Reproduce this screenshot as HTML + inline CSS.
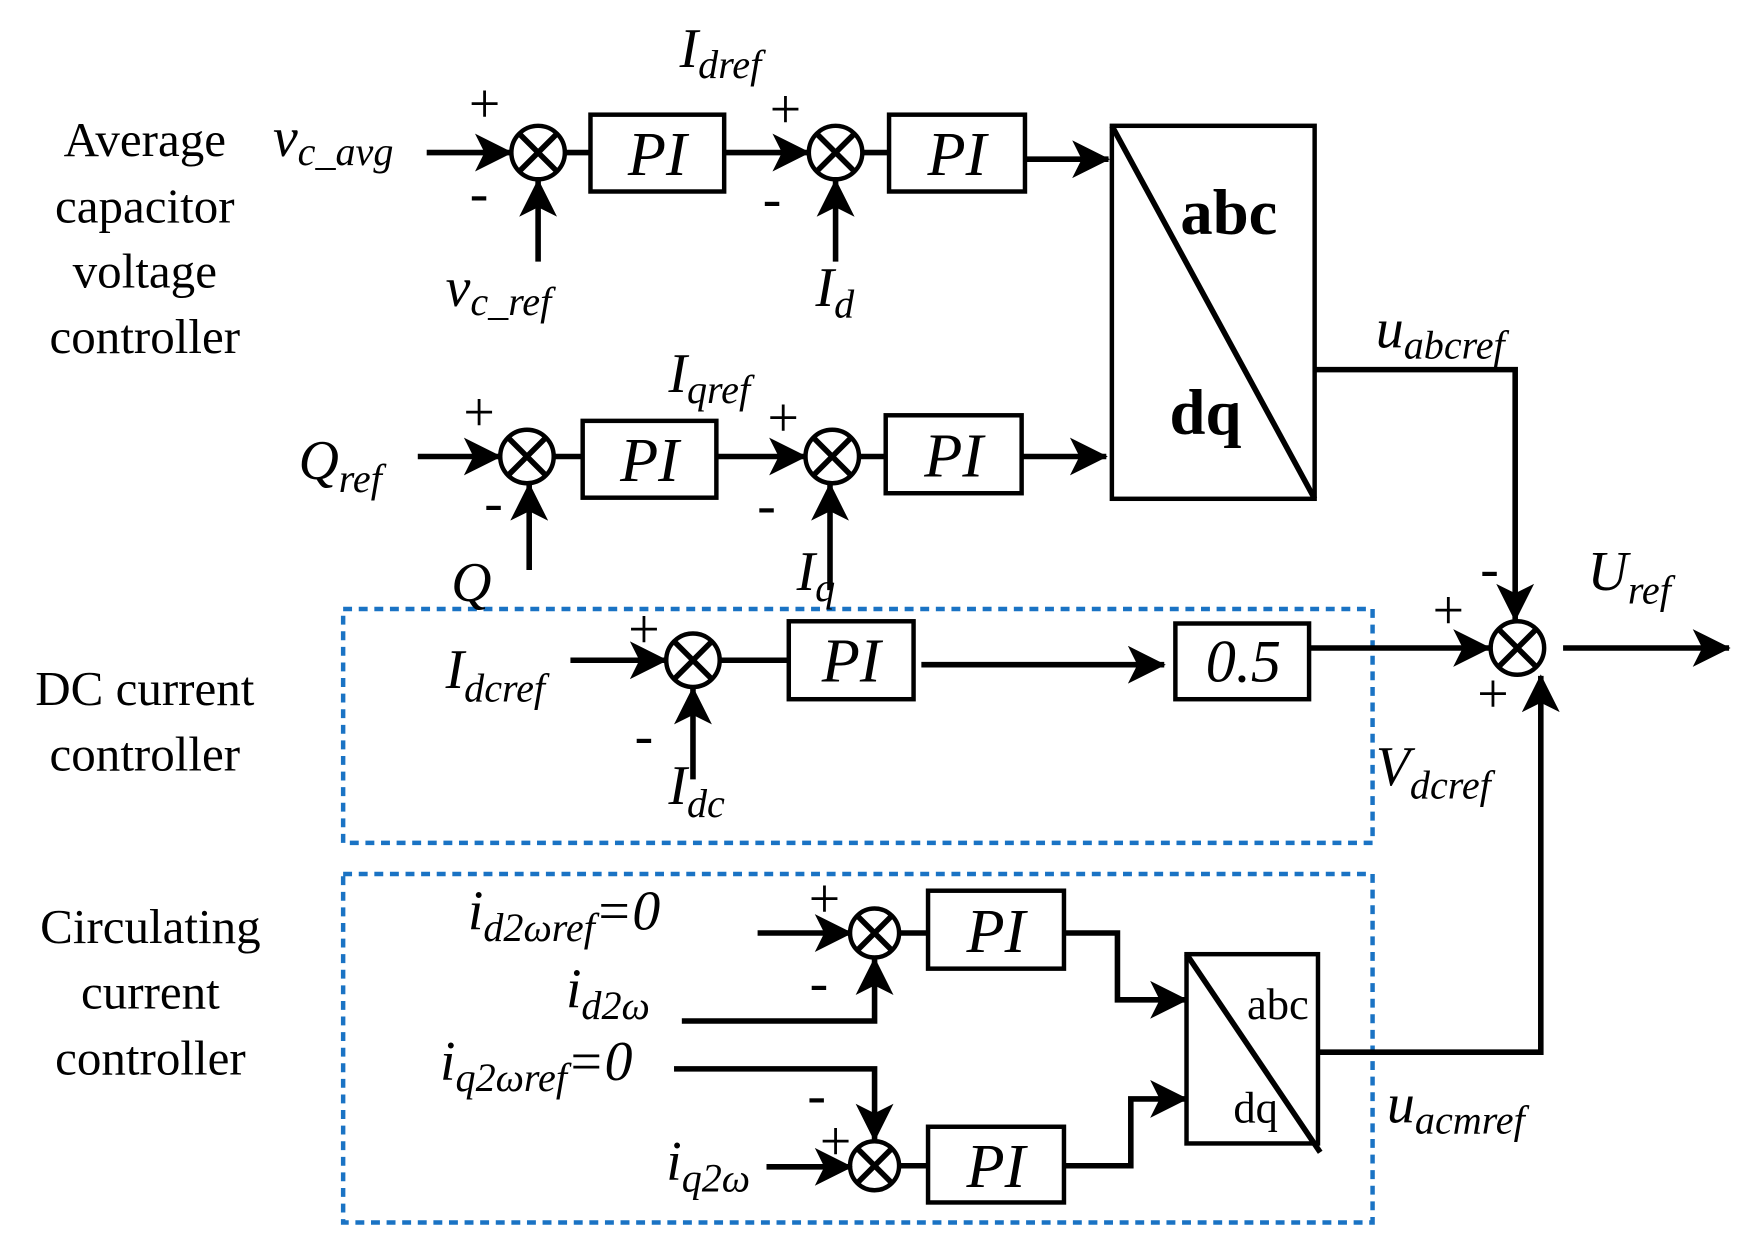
<!DOCTYPE html>
<html><head><meta charset="utf-8"><style>
html,body{margin:0;padding:0;background:#fff}
svg{display:block}
text{font-family:"Liberation Serif",serif;fill:#000}
.lab{font-size:44px;text-anchor:middle}
.v{font-style:italic;font-size:50px}
.s{font-size:36px}
.pi{font-style:italic;font-size:56px;text-anchor:middle}
.pm{font-size:50px;text-anchor:middle}
</style></head><body>
<svg width="1738" height="1247" viewBox="0 0 1560 1120" preserveAspectRatio="none" xmlns="http://www.w3.org/2000/svg">
<defs>
<marker id="a" markerWidth="42" markerHeight="34" refX="9.6" refY="5" orient="auto" markerUnits="userSpaceOnUse" viewBox="0 0 10 10">
<path d="M0,0 L10,5 L0,10 L2.5,5 Z" fill="#000"/>
</marker>
</defs>
<style>
.w{stroke:#000;stroke-width:5;fill:none}
.ar{stroke:#000;stroke-width:5;fill:none;marker-end:url(#a)}
.b{stroke:#000;stroke-width:4;fill:#fff}
.d{stroke:#1a73c4;stroke-width:4;fill:none;stroke-dasharray:8,6}
</style>
<!-- left labels -->
<text class="lab" x="130" y="140">Average</text>
<text class="lab" x="130" y="200">capacitor</text>
<text class="lab" x="130" y="258">voltage</text>
<text class="lab" x="130" y="317">controller</text>
<text class="lab" x="130" y="633">DC current</text>
<text class="lab" x="130" y="692">controller</text>
<text class="lab" x="135" y="847">Circulating</text>
<text class="lab" x="135" y="906">current</text>
<text class="lab" x="135" y="965">controller</text>

<!-- dashed boxes -->
<rect class="d" x="308" y="547" width="924" height="210"/>
<rect class="d" x="308" y="785" width="924" height="313"/>

<!-- Row 1 -->
<text class="v" x="245" y="140">v<tspan class="s" dy="8">c_avg</tspan></text>
<line class="ar" x1="383" y1="137" x2="459" y2="137"/>
<circle class="b" cx="483" cy="137" r="24"/>
<path class="w" d="M466,120 L500,154 M500,120 L466,154"/>
<line class="w" x1="507" y1="137" x2="530" y2="137"/>
<rect class="b" x="530" y="103" width="120" height="69"/>
<text class="pi" x="590" y="157">PI</text>
<line class="ar" x1="650" y1="137" x2="726" y2="137"/>
<circle class="b" cx="750" cy="137" r="24"/>
<path class="w" d="M733,120 L767,154 M767,120 L733,154"/>
<line class="w" x1="774" y1="137" x2="798" y2="137"/>
<rect class="b" x="798" y="103" width="122" height="69"/>
<text class="pi" x="859" y="157">PI</text>
<line class="ar" x1="920" y1="143" x2="995" y2="143"/>
<text class="pm" x="435" y="110">+</text>
<text class="pm" x="430" y="190">-</text>
<line class="ar" x1="483" y1="235" x2="483" y2="162"/>
<text class="v" x="400" y="275">v<tspan class="s" dy="8">c_ref</tspan></text>
<text class="pm" x="705" y="115">+</text>
<text class="pm" x="693" y="195">-</text>
<line class="ar" x1="750" y1="235" x2="750" y2="162"/>
<text class="v" x="732" y="275">I<tspan class="s" dy="10">d</tspan></text>
<text class="v" x="610" y="60">I<tspan class="s" dy="10">dref</tspan></text>

<!-- abc/dq big -->
<rect class="b" x="998" y="113" width="182" height="335"/>
<line class="w" x1="998" y1="113" x2="1180" y2="448"/>
<text x="1103" y="210" style="font-weight:bold;font-size:58px;text-anchor:middle">abc</text>
<text x="1082" y="390" style="font-weight:bold;font-size:58px;text-anchor:middle">dq</text>
<polyline class="ar" points="1180,332 1360,332 1360,557"/>
<text class="v" x="1235" y="312">u<tspan class="s" dy="10">abcref</tspan></text>
<text class="pm" x="1337" y="527">-</text>

<!-- Row 2 -->
<text class="v" x="268" y="430">Q<tspan class="s" dy="12">ref</tspan></text>
<line class="ar" x1="375" y1="410" x2="449" y2="410"/>
<circle class="b" cx="473" cy="410" r="24"/>
<path class="w" d="M456,393 L490,427 M490,393 L456,427"/>
<line class="w" x1="497" y1="410" x2="523" y2="410"/>
<rect class="b" x="523" y="378" width="120" height="69"/>
<text class="pi" x="583" y="432">PI</text>
<line class="ar" x1="643" y1="410" x2="723" y2="410"/>
<circle class="b" cx="747" cy="410" r="24"/>
<path class="w" d="M730,393 L764,427 M764,393 L730,427"/>
<line class="w" x1="771" y1="410" x2="795" y2="410"/>
<rect class="b" x="795" y="373" width="122" height="70"/>
<text class="pi" x="856" y="428">PI</text>
<line class="ar" x1="917" y1="410" x2="993" y2="410"/>
<text class="pm" x="430" y="387">+</text>
<text class="pm" x="443" y="468">-</text>
<line class="ar" x1="475" y1="512" x2="475" y2="435"/>
<text class="v" x="405" y="540">Q</text>
<text class="pm" x="703" y="392">+</text>
<text class="pm" x="688" y="470">-</text>
<line class="ar" x1="745" y1="530" x2="745" y2="435"/>
<text class="v" x="715" y="530">I<tspan class="s" dy="10">q</tspan></text>
<text class="v" x="600" y="352">I<tspan class="s" dy="10">qref</tspan></text>

<!-- DC row -->
<text class="v" x="400" y="618">I<tspan class="s" dy="12">dcref</tspan></text>
<line class="ar" x1="512" y1="593" x2="598" y2="593"/>
<circle class="b" cx="622" cy="593" r="24"/>
<path class="w" d="M605,576 L639,610 M639,576 L605,610"/>
<line class="w" x1="646" y1="593" x2="708" y2="593"/>
<rect class="b" x="708" y="558" width="112" height="70"/>
<text class="pi" x="764" y="612">PI</text>
<line class="ar" x1="827" y1="597" x2="1045" y2="597"/>
<rect class="b" x="1055" y="560" width="120" height="68"/>
<text x="1116" y="612" style="font-style:italic;font-size:54px;text-anchor:middle">0.5</text>
<line class="ar" x1="1175" y1="582" x2="1337" y2="582"/>
<text class="pm" x="578" y="582">+</text>
<text class="pm" x="578" y="677">-</text>
<line class="ar" x1="622" y1="700" x2="622" y2="618"/>
<text class="v" x="600" y="722">I<tspan class="s" dy="12">dc</tspan></text>
<text class="v" x="1235" y="705">V<tspan class="s" dy="12">dcref</tspan></text>

<!-- final sum -->
<circle class="b" cx="1362" cy="582" r="24"/>
<path class="w" d="M1345,565 L1379,599 M1379,565 L1345,599"/>
<line class="ar" x1="1403" y1="582" x2="1552" y2="582"/>
<text class="v" x="1425" y="530">U<tspan class="s" dy="12">ref</tspan></text>
<text class="pm" x="1300" y="565">+</text>
<text class="pm" x="1340" y="640">+</text>
<polyline class="ar" points="1180,945 1383,945 1383,607"/>
<text class="v" x="1245" y="1008">u<tspan class="s" dy="10">acmref</tspan></text>

<!-- circulating -->
<text class="v" x="420" y="835">i<tspan class="s" dy="10">d2ωref</tspan><tspan dy="-10">=0</tspan></text>
<line class="ar" x1="680" y1="838" x2="764" y2="838"/>
<circle class="b" cx="785" cy="838" r="22"/>
<path class="w" d="M770,823 L800,853 M800,823 L770,853"/>
<line class="w" x1="807" y1="838" x2="833" y2="838"/>
<rect class="b" x="833" y="800" width="122" height="70"/>
<text class="pi" x="894" y="855">PI</text>
<polyline class="ar" points="955,838 1003,838 1003,898 1065,898"/>
<text class="pm" x="740" y="824">+</text>
<text class="v" x="508" y="905">i<tspan class="s" dy="10">d2ω</tspan></text>
<polyline class="ar" points="612,917 785,917 785,861"/>
<text class="pm" x="735" y="899">-</text>
<text class="v" x="395" y="970">i<tspan class="s" dy="10">q2ωref</tspan><tspan dy="-10">=0</tspan></text>
<polyline class="ar" points="605,960 785,960 785,1024"/>
<text class="pm" x="733" y="1000">-</text>
<circle class="b" cx="785" cy="1047" r="22"/>
<path class="w" d="M770,1032 L800,1062 M800,1032 L770,1062"/>
<line class="w" x1="807" y1="1047" x2="833" y2="1047"/>
<rect class="b" x="833" y="1012" width="122" height="68"/>
<text class="pi" x="894" y="1066">PI</text>
<text class="v" x="598" y="1060">i<tspan class="s" dy="10">q2ω</tspan></text>
<line class="ar" x1="688" y1="1048" x2="764" y2="1048"/>
<text class="pm" x="750" y="1042">+</text>
<polyline class="ar" points="955,1047 1015,1047 1015,987 1065,987"/>
<rect class="b" x="1065" y="857" width="118" height="170"/>
<line class="w" x1="1065" y1="857" x2="1185" y2="1035"/>
<text x="1147" y="915" style="font-size:40px;text-anchor:middle">abc</text>
<text x="1127" y="1008" style="font-size:40px;text-anchor:middle">dq</text>
</svg>
</body></html>
